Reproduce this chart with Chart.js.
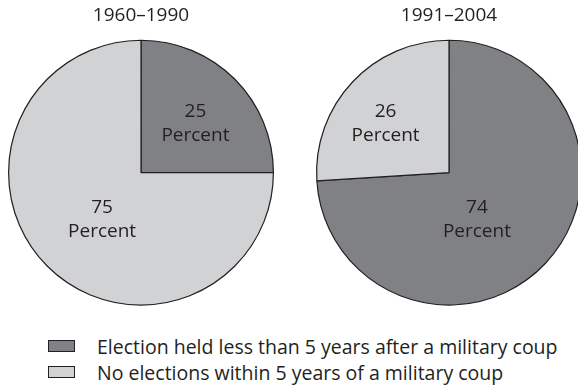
<!DOCTYPE html>
<html>
<head>
<meta charset="utf-8">
<script src="https://cdn.jsdelivr.net/npm/chart.js@4/dist/chart.umd.min.js"></script>
<style>
  html, body { margin: 0; padding: 0; background: #fff; width: 578px; height: 386px; overflow: hidden; }
  .wrap { position: absolute; }
  #legend { position: absolute; left: 48px; top: 333px; font-family: "Open Sans", sans-serif; font-size: 19.5px; color: #231f20; white-space: nowrap; }
  .row { display: flex; align-items: center; height: 26px; }
  .box { width: 25px; height: 10px; border: 1px solid #231f20; margin-right: 22px; flex: none; }
</style>
</head>
<body>
<div class="wrap" style="left:0;top:0;width:274px;height:306px"><canvas id="c1" width="274" height="306"></canvas></div>
<div class="wrap" style="left:308px;top:0;width:282px;height:306px"><canvas id="c2" width="282" height="306"></canvas></div>
<div id="legend"></div>
<script>
// ---- data ----
const periods = ["1960–1990", "1991–2004"];
const categories = [
  "Election held less than 5 years after a military coup",
  "No elections within 5 years of a military coup"
];
const values1960 = [25, 75];
const values1991 = [74, 26];
const unitLabel = "Percent";

// ---- styles ----
const sliceColors = ["#808184", "#d1d2d4"];
const edgeColor = "#231f20";
const fontFamily = '"Open Sans", "Noto Sans", sans-serif';
// label placement, as fractions of the pie radius from its centre (one per slice)
const labelOffsets1 = [[0.411, -0.381], [-0.294, 0.34]];
const labelOffsets2 = [[0.211, 0.34], [-0.479, -0.381]];

const sliceLabels = {
  id: 'sliceLabels',
  afterDatasetsDraw(chart, args, opts) {
    const ctx = chart.ctx;
    const meta = chart.getDatasetMeta(0);
    const ds = chart.data.datasets[0];
    ctx.save();
    ctx.fillStyle = edgeColor;
    ctx.font = '19px ' + fontFamily;
    ctx.textAlign = 'center';
    ctx.textBaseline = 'alphabetic';
    meta.data.forEach((arc, i) => {
      const r = arc.outerRadius;
      const off = opts.offsets[i];
      const x = arc.x + off[0] * r;
      const y = arc.y + off[1] * r;
      ctx.fillText(String(ds.data[i]), x, y - 5);
      ctx.fillText(unitLabel, x, y + 19);
    });
    ctx.restore();
  }
};

function makePie(id, title, values, offsets, padLeft, padRight) {
  return new Chart(document.getElementById(id), {
    type: 'pie',
    data: {
      labels: categories,
      datasets: [{
        data: values,
        backgroundColor: sliceColors,
        borderColor: edgeColor,
        borderWidth: 1.2
      }]
    },
    options: {
      responsive: false,
      animation: false,
      layout: { padding: { left: padLeft, right: padRight, top: 0, bottom: 0 } },
      plugins: {
        legend: { display: false },
        tooltip: { enabled: false },
        title: {
          display: true,
          text: title,
          color: edgeColor,
          font: { family: fontFamily, size: 19, weight: 'normal', lineHeight: 1.2 },
          padding: { top: 4, bottom: 12.5 }
        },
        sliceLabels: { offsets: offsets }
      }
    },
    plugins: [sliceLabels]
  });
}

makePie('c1', periods[0], values1960, labelOffsets1, 8, 0);
makePie('c2', periods[1], values1991, labelOffsets2, 8, 8);

// legend
const legend = document.getElementById('legend');
categories.forEach((c, i) => {
  const row = document.createElement('div');
  row.className = 'row';
  const box = document.createElement('div');
  box.className = 'box';
  box.style.background = sliceColors[i];
  const t = document.createElement('span');
  t.textContent = c;
  row.appendChild(box); row.appendChild(t);
  legend.appendChild(row);
});
</script>
</body>
</html>
